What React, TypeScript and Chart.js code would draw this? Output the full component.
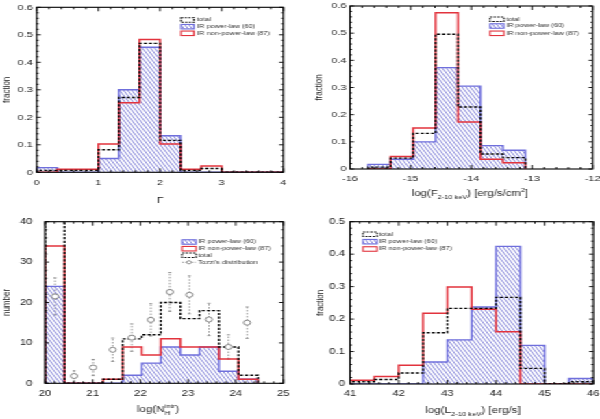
import React, { useEffect, useRef } from "react";
import { Chart, registerables } from "chart.js";

Chart.register(...registerables);

// ---------------- data ----------------
const gammaEdges = [0, 0.333, 0.667, 1, 1.333, 1.667, 2, 2.333, 2.667, 3, 3.333, 3.667, 4];
const gammaTotal = [0.007, 0.007, 0.007, 0.082, 0.272, 0.469, 0.116, 0.007, 0.014, 0, 0, 0];
const gammaPL = [0.017, 0, 0, 0.05, 0.3, 0.455, 0.133, 0, 0, 0, 0, 0];
const gammaNPL = [0, 0.0115, 0.0115, 0.103, 0.253, 0.483, 0.103, 0.0115, 0.023, 0, 0, 0];
const gammaTicks = [0, 1, 2, 3, 4];

const fluxEdges = [-15.7, -15.33, -14.96, -14.59, -14.22, -13.85, -13.48, -13.11];
const fluxTotal = [0.007, 0.04, 0.131, 0.496, 0.228, 0.055, 0.042];
const fluxPL = [0.017, 0.036, 0.1, 0.373, 0.305, 0.086, 0.069];
const fluxNPL = [0, 0.046, 0.151, 0.575, 0.173, 0.036, 0.023];
const fluxTicks = [-16, -15, -14, -13, -12];

const nhEdges = [20, 20.41, 20.82, 21.22, 21.63, 22.03, 22.43, 22.84, 23.24, 23.65, 24.06, 24.47];
const nhPL = [24, 0, 0, 0, 2, 5, 9, 7, 9, 3, 1];
const nhNPL = [34, 0, 0, 1, 9, 7, 11, 9, 9, 6, 1];
const nhTotal = [58, 0, 0, 1, 11, 12, 20, 16, 18, 9, 2];
const nhTicks = [20, 21, 22, 23, 24, 25];
const numberTicks = [0, 10, 20, 30, 40];
const tozziX = [20.21, 20.61, 21.01, 21.42, 21.82, 22.22, 22.62, 23.03, 23.44, 23.85, 24.24];
const tozziY = [21.5, 1.8, 3.9, 8.3, 11.3, 15.7, 22.6, 21.9, 15.8, 9.0, 15.0];
const tozziErr = [4.6, 1.3, 2.0, 2.9, 3.4, 4.0, 4.8, 4.7, 4.0, 3.0, 3.9];

const lumEdges = [41, 41.5, 42, 42.5, 43, 43.5, 44, 44.5, 45, 45.5, 46];
const lumTotal = [0.0068, 0.0137, 0.034, 0.158, 0.233, 0.233, 0.267, 0.048, 0, 0.0068];
const lumPL = [0, 0, 0, 0.068, 0.136, 0.237, 0.424, 0.119, 0, 0.017];
const lumNPL = [0.0115, 0.023, 0.0575, 0.218, 0.299, 0.23, 0.161, 0, 0, 0];
const lumTicks = [41, 42, 43, 44, 45, 46];

const frac6Ticks = [0, 0.1, 0.2, 0.3, 0.4, 0.5, 0.6];
const frac5Ticks = [0, 0.1, 0.2, 0.3, 0.4, 0.5];

const labelTotal = "total";
const labelPL = "IR power-law (60)";
const labelNPL = "IR non-power-law (87)";
const labelTozzi = "Tozzi's distribution";

// ---------------- style ----------------
const H = 419;
const WU = 438; // unscaled drawing width, stretched to 600
const SX = 600 / WU;
const FONT = "'Liberation Sans', Arial, Helvetica, sans-serif";
const RED = "#e2333d";
const BLUE = "#6f6fdc";
const HATCH = "#7c7cd6";
const TXT = "#222";

type Part = { t: string; m?: "sub" | "sup"; sup?: string };
type Kind = "total" | "pl" | "npl" | "tozzi";
type Axis = { min: number; max: number; ticks: number[]; minor: number; pad: number };
type Panel = {
  area: { left: number; right: number; top: number; bottom: number };
  boxLeft: number;
  x: Axis;
  y: Axis;
  font: number;
  edges: number[];
  total: number[];
  pl: number[];
  npl: number[];
  points?: { x: number[]; y: number[]; e: number[] };
  xTitle: Part[];
  xTitleX: number;
  xTitleY: number;
  xTitleSize: number;
  yTitle: string;
  yTitleX: number;
  legend: { sx: number; sw: number; tx: number; rows: number[]; items: Kind[] };
};

const u = (px: number) => px / SX; // page x -> unscaled x

const panels: Panel[] = [
  {
    area: { left: u(36.7), right: u(283.3), top: 7.3, bottom: 172.3 },
    boxLeft: 0,
    x: { min: 0, max: 4, ticks: gammaTicks, minor: 0.2, pad: 5.4 },
    y: { min: 0, max: 0.6, ticks: frac6Ticks, minor: 0.02, pad: u(4) },
    font: 8,
    edges: gammaEdges, total: gammaTotal, pl: gammaPL, npl: gammaNPL,
    xTitle: [{ t: "Γ" }], xTitleX: u(160), xTitleY: 199.3, xTitleSize: 9.5,
    yTitle: "fraction", yTitleX: u(6.5),
    legend: { sx: u(181), sw: u(13), tx: u(197), rows: [20, 26.7, 33.3], items: ["total", "pl", "npl"] },
  },
  {
    area: { left: u(350), right: u(592.7), top: 6, bottom: 169 },
    boxLeft: u(300),
    x: { min: -16, max: -12, ticks: fluxTicks, minor: 0.2, pad: 5.2 },
    y: { min: 0, max: 0.6, ticks: frac6Ticks, minor: 0.02, pad: u(3.5) },
    font: 8,
    edges: fluxEdges, total: fluxTotal, pl: fluxPL, npl: fluxNPL,
    xTitle: [{ t: "log(F" }, { t: "2-10 keV", m: "sub" }, { t: ") [erg/s/cm" }, { t: "2", m: "sup" }, { t: "]" }],
    xTitleX: u(470), xTitleY: 193.3, xTitleSize: 8.3,
    yTitle: "fraction", yTitleX: u(318.5),
    legend: { sx: u(490), sw: u(14), tx: u(506), rows: [19.3, 26, 33.3], items: ["total", "pl", "npl"] },
  },
  {
    area: { left: u(45), right: u(283.3), top: 221.7, bottom: 383.3 },
    boxLeft: 0,
    x: { min: 20, max: 25, ticks: nhTicks, minor: 0.2, pad: 5.0 },
    y: { min: 0, max: 40, ticks: numberTicks, minor: 2, pad: u(12.5) },
    font: 8.3,
    edges: nhEdges, total: nhTotal, pl: nhPL, npl: nhNPL,
    points: { x: tozziX, y: tozziY, e: tozziErr },
    xTitle: [{ t: "log(N" }, { t: "H", m: "sub", sup: "intr" }, { t: ")" }],
    xTitleX: u(158), xTitleY: 409, xTitleSize: 8.5,
    yTitle: "number", yTitleX: u(6.5),
    legend: { sx: u(182), sw: u(14), tx: u(198), rows: [242, 248.7, 255.3, 262.3], items: ["pl", "npl", "total", "tozzi"] },
  },
  {
    area: { left: u(350), right: u(593.3), top: 221.7, bottom: 384 },
    boxLeft: u(300),
    x: { min: 41, max: 46, ticks: lumTicks, minor: 0.2, pad: 5.2 },
    y: { min: 0, max: 0.5, ticks: frac5Ticks, minor: 0.02, pad: u(5) },
    font: 8.3,
    edges: lumEdges, total: lumTotal, pl: lumPL, npl: lumNPL,
    xTitle: [{ t: "log(L" }, { t: "2-10 keV", m: "sub" }, { t: ") [erg/s]" }],
    xTitleX: u(473), xTitleY: 410.5, xTitleSize: 8.5,
    yTitle: "fraction", yTitleX: u(320),
    legend: { sx: u(363), sw: u(14), tx: u(379), rows: [234.3, 241.7, 249], items: ["total", "pl", "npl"] },
  },
];

function steps(edges: number[], vals: number[]) {
  const pts = [{ x: edges[0], y: 0 }];
  vals.forEach((v, i) => pts.push({ x: edges[i], y: v }));
  pts.push({ x: edges[edges.length - 1], y: 0 });
  return pts;
}

function fmt(v: number) {
  return String(Math.round(Number(v) * 1000) / 1000);
}

function makePattern(): CanvasPattern | string {
  const c = document.createElement("canvas");
  const w = 3, h = 5;
  c.width = w;
  c.height = h;
  const g = c.getContext("2d");
  if (!g) return HATCH;
  g.strokeStyle = HATCH;
  g.lineWidth = 0.9;
  for (const off of [-w, 0, w]) {
    g.beginPath();
    g.moveTo(off, 0);
    g.lineTo(off + w, h);
    g.stroke();
  }
  return g.createPattern(c, "repeat") || HATCH;
}

function drawRich(ctx: CanvasRenderingContext2D, parts: Part[], cx: number, cy: number, size: number) {
  const small = size * 0.65;
  const fMain = `${size}px ${FONT}`;
  const fSmall = `${small}px ${FONT}`;
  const widths = parts.map((p) => {
    if (!p.m) { ctx.font = fMain; return ctx.measureText(p.t).width; }
    ctx.font = fSmall;
    const a = ctx.measureText(p.t).width;
    const b = p.sup ? ctx.measureText(p.sup).width : 0;
    return Math.max(a, b);
  });
  const total = widths.reduce((a, b) => a + b, 0);
  let x = cx - total / 2;
  const base = cy + size * 0.35;
  ctx.textAlign = "left";
  ctx.textBaseline = "alphabetic";
  ctx.fillStyle = TXT;
  parts.forEach((p, i) => {
    if (!p.m) {
      ctx.font = fMain;
      ctx.fillText(p.t, x, base);
    } else {
      ctx.font = fSmall;
      if (p.m === "sub") ctx.fillText(p.t, x, base + size * 0.32);
      else ctx.fillText(p.t, x, base - size * 0.45);
      if (p.sup) ctx.fillText(p.sup, x, base - size * 0.45);
    }
    x += widths[i];
  });
}

function makeDeco(p: Panel, pattern: CanvasPattern | string) {
  return {
    id: "deco",
    beforeDatasetsDraw(chart: any) {
      if (!p.points) return;
      const { ctx } = chart;
      const xs = chart.scales.x, ys = chart.scales.y;
      ctx.save();
      ctx.strokeStyle = "#8a8a8a";
      ctx.lineWidth = 0.9;
      p.points.x.forEach((xv, i) => {
        const px = xs.getPixelForValue(xv);
        const yTop = ys.getPixelForValue(p.points!.y[i] + p.points!.e[i]);
        const yBot = ys.getPixelForValue(p.points!.y[i] - p.points!.e[i]);
        ctx.setLineDash([1.5, 1.5]);
        ctx.beginPath();
        ctx.moveTo(px, yBot);
        ctx.lineTo(px, yTop);
        ctx.stroke();
        ctx.setLineDash([]);
        ctx.beginPath();
        ctx.moveTo(px - 1.1, yTop);
        ctx.lineTo(px + 1.1, yTop);
        ctx.moveTo(px - 1.1, yBot);
        ctx.lineTo(px + 1.1, yBot);
        ctx.stroke();
      });
      ctx.restore();
    },
    afterDatasetsDraw(chart: any) {
      const { ctx, chartArea: a } = chart;
      const xs = chart.scales.x, ys = chart.scales.y;
      ctx.save();
      // frame
      ctx.strokeStyle = "#000";
      ctx.lineWidth = 1.1;
      ctx.setLineDash([]);
      ctx.strokeRect(a.left, a.top, a.right - a.left, a.bottom - a.top);
      // ticks (inward, all four sides)
      ctx.lineWidth = 0.9;
      const doTicks = (ax: Axis, horiz: boolean) => {
        const n = Math.round((ax.max - ax.min) / ax.minor);
        const stepMaj = ax.ticks.length > 1 ? ax.ticks[1] - ax.ticks[0] : 1;
        for (let i = 0; i <= n; i++) {
          const v = ax.min + i * ax.minor;
          const r = (v - ax.min) / stepMaj;
          const major = Math.abs(r - Math.round(r)) < 1e-6;
          ctx.beginPath();
          if (horiz) {
            const px = xs.getPixelForValue(v);
            const L = major ? 4 : 2;
            ctx.moveTo(px, a.bottom); ctx.lineTo(px, a.bottom - L);
            ctx.moveTo(px, a.top); ctx.lineTo(px, a.top + L);
          } else {
            const py = ys.getPixelForValue(v);
            const L = major ? 3 : 1.5;
            ctx.moveTo(a.left, py); ctx.lineTo(a.left + L, py);
            ctx.moveTo(a.right, py); ctx.lineTo(a.right - L, py);
          }
          ctx.stroke();
        }
      };
      doTicks(p.x, true);
      doTicks(p.y, false);
      // titles
      drawRich(ctx, p.xTitle, p.xTitleX, p.xTitleY, p.xTitleSize);
      ctx.save();
      ctx.translate(p.yTitleX, (a.top + a.bottom) / 2);
      ctx.rotate(-Math.PI / 2);
      ctx.font = `8px ${FONT}`;
      ctx.fillStyle = TXT;
      ctx.textAlign = "center";
      ctx.textBaseline = "middle";
      ctx.fillText(p.yTitle, 0, 0);
      ctx.restore();
      // legend
      const lg = p.legend;
      const sh = 4.5;
      lg.items.forEach((kind, i) => {
        const cy = lg.rows[i];
        const top = cy - sh / 2;
        ctx.setLineDash([]);
        if (kind === "total") {
          ctx.strokeStyle = "#000";
          ctx.lineWidth = 1.1;
          ctx.setLineDash([1.6, 1.1]);
          ctx.strokeRect(lg.sx, top, lg.sw, sh);
          ctx.setLineDash([]);
        } else if (kind === "pl") {
          ctx.fillStyle = pattern as any;
          ctx.fillRect(lg.sx, top, lg.sw, sh);
          ctx.strokeStyle = BLUE;
          ctx.lineWidth = 1.1;
          ctx.strokeRect(lg.sx, top, lg.sw, sh);
        } else if (kind === "npl") {
          ctx.strokeStyle = RED;
          ctx.lineWidth = 1.1;
          ctx.strokeRect(lg.sx, top, lg.sw, sh);
        } else {
          ctx.strokeStyle = "#888";
          ctx.lineWidth = 0.9;
          ctx.setLineDash([1.2, 1.2]);
          ctx.beginPath();
          ctx.moveTo(lg.sx, cy); ctx.lineTo(lg.sx + lg.sw, cy);
          ctx.stroke();
          ctx.setLineDash([]);
          ctx.beginPath();
          ctx.arc(lg.sx + lg.sw / 2, cy, 1.6, 0, Math.PI * 2);
          ctx.fillStyle = "#fff";
          ctx.fill();
          ctx.stroke();
        }
        const label = kind === "total" ? labelTotal : kind === "pl" ? labelPL : kind === "npl" ? labelNPL : labelTozzi;
        ctx.font = `5.4px ${FONT}`;
        ctx.fillStyle = "#333";
        ctx.textAlign = "left";
        ctx.textBaseline = "middle";
        ctx.fillText(label, lg.tx, cy);
      });
      ctx.restore();
    },
  };
}

function buildChart(canvas: HTMLCanvasElement, p: Panel, pattern: CanvasPattern | string) {
  const datasets: any[] = [];
  if (p.points) {
    datasets.push({
      data: p.points.x.map((x, i) => ({ x, y: p.points!.y[i] })),
      showLine: false,
      pointRadius: 2.5,
      pointStyle: "circle",
      pointBorderColor: "#7a7a7a",
      pointBackgroundColor: "#fff",
      pointBorderWidth: 0.9,
      order: 0,
    });
  }
  datasets.push({
    data: steps(p.edges, p.total),
    stepped: "before",
    borderColor: "#000",
    borderWidth: 1.4,
    borderDash: [2.2, 1.5],
    pointRadius: 0,
    fill: false,
    order: 1,
  });
  datasets.push({
    data: steps(p.edges, p.npl),
    stepped: "before",
    borderColor: RED,
    borderWidth: 1.5,
    pointRadius: 0,
    fill: false,
    order: 2,
  });
  datasets.push({
    data: steps(p.edges, p.pl),
    stepped: "before",
    borderColor: BLUE,
    borderWidth: 1.4,
    backgroundColor: pattern,
    pointRadius: 0,
    fill: "origin",
    order: 3,
  });

  const yBox = p.area.left - p.boxLeft;
  const axisCfg = (ax: Axis, isX: boolean) => ({
    type: "linear",
    min: ax.min,
    max: ax.max,
    afterBuildTicks: (s: any) => {
      s.ticks = ax.ticks.map((v) => ({ value: v }));
    },
    afterFit: (s: any) => {
      if (isX) s.height = 40;
      else s.width = yBox;
      s.paddingLeft = 0;
      s.paddingRight = 0;
      s.paddingTop = 0;
      s.paddingBottom = 0;
    },
    grid: { display: false, drawTicks: false },
    border: { display: false },
    ticks: {
      padding: ax.pad,
      font: { family: FONT, size: p.font },
      color: TXT,
      maxRotation: 0,
      minRotation: 0,
      autoSkip: false,
      callback: (v: any) => fmt(v),
    },
  });

  return new Chart(canvas, {
    type: "line",
    data: { datasets },
    options: {
      responsive: false,
      animation: false,
      devicePixelRatio: 1,
      events: [],
      layout: {
        autoPadding: false,
        padding: {
          left: p.boxLeft,
          right: WU - p.area.right,
          top: p.area.top,
          bottom: H - p.area.bottom - 40,
        },
      },
      scales: { x: axisCfg(p.x, true), y: axisCfg(p.y, false) } as any,
      plugins: { legend: { display: false }, tooltip: { enabled: false } },
    } as any,
    plugins: [makeDeco(p, pattern)],
  });
}

export default function App() {
  const refs = useRef<(HTMLCanvasElement | null)[]>([]);
  useEffect(() => {
    const pattern = makePattern();
    const charts = panels.map((p, i) => buildChart(refs.current[i] as HTMLCanvasElement, p, pattern));
    return () => charts.forEach((c) => c.destroy());
  }, []);
  return (
    <div style={{ position: "absolute", left: 0, top: 0, width: 600, height: H, overflow: "hidden", background: "#fff" }}>
      <div
        style={{
          position: "absolute",
          left: 0,
          top: 0,
          width: WU,
          height: H,
          transform: `scaleX(${SX})`,
          transformOrigin: "0 0",
        }}
      >
        {panels.map((_, i) => (
          <canvas
            key={i}
            ref={(el) => {
              refs.current[i] = el;
            }}
            width={WU}
            height={H}
            style={{ position: "absolute", left: 0, top: 0, width: WU, height: H }}
          />
        ))}
      </div>
    </div>
  );
}
